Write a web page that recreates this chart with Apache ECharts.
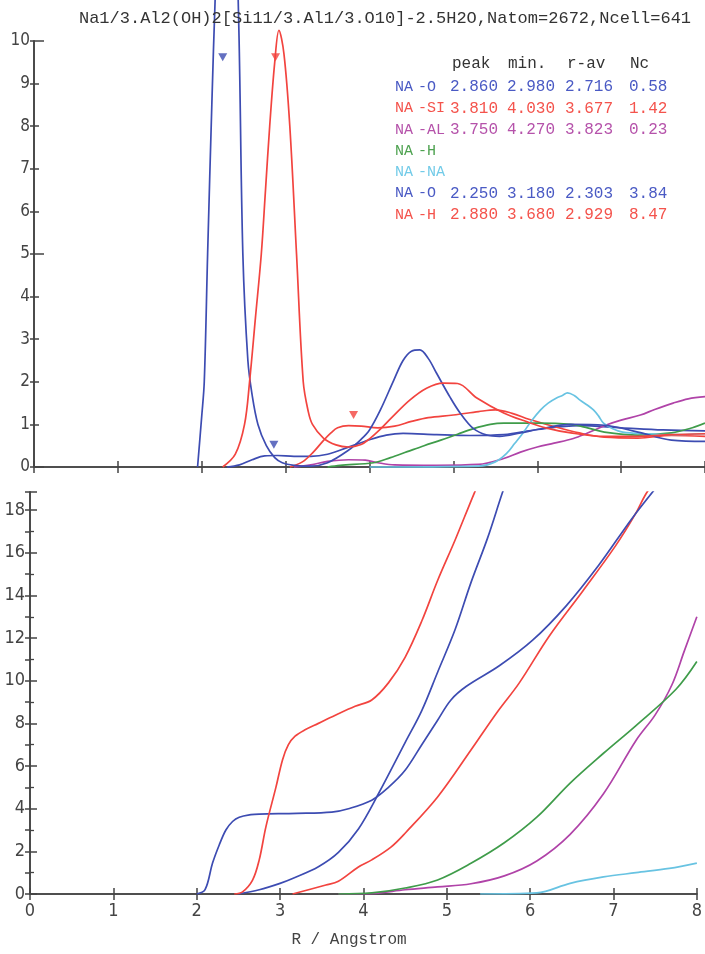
<!DOCTYPE html>
<html>
<head>
<meta charset="utf-8">
<script src="https://cdn.jsdelivr.net/npm/echarts@6/dist/echarts.min.js"></script>
<style>
html,body{margin:0;padding:0;background:#fff;}
#chart{width:705px;height:954px;}
</style>
</head>
<body>
<div id="chart"></div>
<script>
// ---------- DATA ----------
const chartTitle = 'Na1/3.Al2(OH)2[Si11/3.Al1/3.O10]-2.5H2O,Natom=2672,Ncell=641';
const xAxisName = 'R / Angstrom';

// table
const tableHeader = ['peak', 'min.', 'r-av', 'Nc'];
const pairA = ['NA', 'NA', 'NA', 'NA', 'NA', 'NA', 'NA'];
const pairB = ['-O', '-SI', '-AL', '-H', '-NA', '-O', '-H'];
const peakCol = ['2.860', '3.810', '3.750', '', '', '2.250', '2.880'];
const minCol  = ['2.980', '4.030', '4.270', '', '', '3.180', '3.680'];
const ravCol  = ['2.716', '3.677', '3.823', '', '', '2.303', '2.929'];
const ncCol   = ['0.58', '1.42', '0.23', '', '', '3.84', '8.47'];

// g(r) curves: [r, g]
const gNaO1 = [[2.3,0],[2.45,0.05],[2.6,0.17],[2.75,0.26],[2.9,0.27],[3.1,0.25],[3.3,0.25],[3.5,0.3],[3.74,0.46],[4.0,0.64],[4.2,0.75],[4.4,0.79],[4.8,0.76],[5.2,0.74],[5.6,0.76],[6.0,0.88],[6.5,0.97],[7.0,0.92],[7.5,0.87],[8.0,0.85]];
const gNaSi = [[3.05,0],[3.2,0.12],[3.33,0.35],[3.45,0.62],[3.54,0.8],[3.62,0.92],[3.75,0.97],[3.9,0.96],[4.1,0.92],[4.3,0.96],[4.5,1.07],[4.7,1.16],[5.0,1.22],[5.3,1.3],[5.5,1.34],[5.7,1.26],[5.9,1.12],[6.2,0.95],[6.5,0.8],[6.8,0.7],[7.2,0.68],[7.6,0.74],[8.0,0.72]];
const gNaAl = [[3.1,0],[3.3,0.05],[3.5,0.13],[3.75,0.17],[3.95,0.16],[4.1,0.1],[4.3,0.05],[4.8,0.04],[5.3,0.06],[5.6,0.2],[5.8,0.35],[6.0,0.47],[6.2,0.56],[6.43,0.67],[6.6,0.8],[6.83,0.99],[7.0,1.1],[7.23,1.22],[7.4,1.35],[7.62,1.5],[7.8,1.6],[8.0,1.65]];
const gNaHw = [[3.5,0],[3.65,0.04],[4.05,0.1],[4.25,0.22],[4.45,0.36],[4.65,0.5],[4.85,0.63],[5.05,0.77],[5.24,0.9],[5.44,1.0],[5.6,1.03],[6.0,1.03],[6.4,1.0],[6.6,0.92],[6.8,0.82],[7.2,0.75],[7.6,0.8],[7.85,0.92],[8.0,1.03]];
const gNaNa = [[4.0,0],[5.3,0.02],[5.5,0.12],[5.64,0.33],[5.73,0.55],[5.83,0.8],[5.93,1.08],[6.04,1.34],[6.13,1.5],[6.23,1.62],[6.3,1.68],[6.36,1.74],[6.44,1.68],[6.51,1.57],[6.6,1.45],[6.67,1.34],[6.73,1.2],[6.79,1.03],[6.9,0.9],[7.02,0.82],[7.3,0.78],[7.6,0.76],[8.0,0.78]];
const gNaO2 = [[1.95,0],[2.0,1.2],[2.03,2],[2.07,5],[2.12,8.5],[2.16,11],[2.22,14],[2.3,15],[2.38,14],[2.44,10.5],[2.49,5],[2.55,2.5],[2.6,1.7],[2.67,1.0],[2.77,0.5],[2.87,0.22],[2.96,0.1],[3.1,0.04],[3.3,0.02],[3.5,0.1],[3.74,0.38],[3.9,0.65],[4.0,0.87],[4.13,1.34],[4.29,2.04],[4.4,2.5],[4.5,2.72],[4.6,2.75],[4.7,2.55],[4.8,2.2],[4.96,1.64],[5.08,1.27],[5.24,0.9],[5.4,0.75],[5.55,0.72],[5.8,0.8],[6.0,0.88],[6.4,1.0],[6.8,0.98],[7.2,0.82],[7.6,0.63],[8.0,0.6]];
const gNaH = [[2.25,0],[2.4,0.3],[2.51,1.0],[2.57,2.0],[2.64,3.5],[2.71,5.0],[2.76,6.5],[2.81,8.0],[2.87,9.5],[2.92,10.25],[2.98,9.7],[3.05,8.0],[3.13,5.0],[3.21,2.0],[3.27,1.3],[3.32,1.0],[3.45,0.68],[3.6,0.52],[3.75,0.47],[3.9,0.53],[4.0,0.66],[4.12,0.87],[4.27,1.17],[4.48,1.57],[4.68,1.85],[4.88,1.97],[5.05,1.96],[5.28,1.62],[5.6,1.27],[5.88,1.06],[6.1,0.92],[6.4,0.8],[6.8,0.72],[7.2,0.72],[7.6,0.76],[8.0,0.78]];

// peak markers
const markR = [2.25, 2.86, 2.88, 3.81];
const markG = [9.62, 0.52, 9.62, 1.22];

// N(r) running coordination numbers: [r, N]
const nNaO2 = [[2.0,0],[2.1,0.2],[2.19,1.45],[2.27,2.3],[2.35,3.0],[2.43,3.4],[2.51,3.6],[2.65,3.72],[2.75,3.75],[3.2,3.78],[3.62,3.84],[3.82,4.0],[4.1,4.4],[4.3,5.0],[4.5,5.8],[4.7,7.0],[4.89,8.15],[5.05,9.1],[5.24,9.75],[5.63,10.7],[6.03,11.9],[6.43,13.5],[6.82,15.4],[7.22,17.6],[7.5,19.0]];
const nNaH  = [[2.45,0],[2.55,0.1],[2.67,0.65],[2.75,1.6],[2.83,3.15],[2.95,5.0],[3.03,6.3],[3.1,7.0],[3.18,7.4],[3.3,7.7],[3.46,8.0],[3.7,8.45],[3.9,8.8],[4.1,9.1],[4.3,9.9],[4.5,11.1],[4.7,12.8],[4.89,14.7],[5.1,16.6],[5.33,18.8],[5.4,19.4]];
const nNaO1 = [[2.5,0],[2.75,0.2],[3.0,0.5],[3.15,0.73],[3.46,1.28],[3.7,1.95],[3.94,3.05],[4.18,4.7],[4.5,7.1],[4.7,8.6],[4.89,10.4],[5.1,12.4],[5.29,14.6],[5.49,16.7],[5.67,18.85],[5.75,19.7]];
const nNaSi = [[3.15,0],[3.55,0.42],[3.7,0.6],[3.94,1.27],[4.1,1.6],[4.33,2.2],[4.5,2.85],[4.89,4.55],[5.29,6.75],[5.6,8.5],[5.87,9.9],[6.23,12.1],[6.63,14.2],[7.02,16.3],[7.26,17.8],[7.38,18.7],[7.5,19.4]];
const nNaHw = [[3.7,0],[4.1,0.05],[4.5,0.28],[4.89,0.66],[5.29,1.44],[5.69,2.4],[6.08,3.6],[6.48,5.2],[6.88,6.6],[7.27,7.9],[7.75,9.6],[8.0,10.9]];
const nNaAl = [[3.7,0],[4.1,0.02],[4.5,0.2],[4.89,0.33],[5.29,0.48],[5.69,0.85],[6.08,1.55],[6.48,2.8],[6.88,4.7],[7.27,7.2],[7.5,8.4],[7.7,9.8],[7.85,11.4],[8.0,13.0]];
const nNaNa = [[5.4,0],[6.08,0.05],[6.48,0.5],[6.88,0.8],[7.27,1.0],[7.67,1.2],[8.0,1.45]];

// ---------- STYLE ----------
const C = { blue:'#3d4cb2', red:'#f2443f', purple:'#b043a8', green:'#3f9c4a', cyan:'#68c3e2' };
const T = { blue:'#4a5ac4', red:'#f4534c', purple:'#b552aa', green:'#4ea250', cyan:'#72cbe8' };
const rowColors = [T.blue, T.red, T.purple, T.green, T.cyan, T.blue, T.red];
const axisCol = '#444';
const labelFont = '"Liberation Sans Narrow","DejaVu Sans Condensed","Liberation Sans",sans-serif';
const monoFont = '"Liberation Mono","DejaVu Sans Mono",monospace';

const chart = echarts.init(document.getElementById('chart'), null, {renderer:'canvas'});

const lineStyle = (c) => ({ color: c, width: 1.7 });
function line(name, data, color, xi, yi, clip) {
  return { type:'line', name, data, xAxisIndex:xi, yAxisIndex:yi, showSymbol:false, symbol:'none',
    smooth:0.35, clip, lineStyle: lineStyle(color), itemStyle:{color}, silent:true, z:3 };
}

const axisLine = { show:true, lineStyle:{ color:axisCol, width:1.6 } };

const grids = [
  { left:34, top:41, width:671, height:426 },
  { left:30, top:492, width:672, height:402 }
];

const xAxes = [
  { gridIndex:0, type:'value', min:0, max:8, interval:1, position:'bottom', axisLine, splitLine:{show:false},
    axisTick:{inside:true, length:6, lineStyle:{color:axisCol, width:1.5}}, axisLabel:{show:false} },
  { gridIndex:0, type:'value', min:0, max:8, interval:1, position:'top', axisLine, splitLine:{show:false},
    axisTick:{inside:true, length:6, lineStyle:{color:axisCol, width:1.5}}, axisLabel:{show:false} },
  { gridIndex:1, type:'value', min:0, max:8, interval:1, position:'bottom', axisLine, splitLine:{show:false},
    axisTick:{inside:true, length:6, lineStyle:{color:axisCol, width:1.5}},
    axisLabel:{show:true, color:axisCol, fontSize:18, fontFamily:labelFont, margin:8} },
  { gridIndex:1, type:'value', min:0, max:8, interval:1, position:'top', axisLine, splitLine:{show:false},
    axisTick:{inside:true, length:6, lineStyle:{color:axisCol, width:1.5}}, axisLabel:{show:false} }
];

const yAxes = [
  { gridIndex:0, type:'value', min:0, max:10, interval:1, position:'left', axisLine, splitLine:{show:false},
    axisTick:{inside:true, length:5, lineStyle:{color:axisCol, width:1.5}},
    axisLabel:{color:axisCol, fontSize:17, fontFamily:labelFont, margin:4} },
  { gridIndex:0, type:'value', min:0, max:10, interval:1, position:'right', axisLine, splitLine:{show:false},
    axisTick:{inside:true, length:4, lineStyle:{color:axisCol, width:1.5}}, axisLabel:{show:false} },
  { gridIndex:0, type:'value', min:0, max:10, interval:5, position:'left', axisLine:{show:false}, splitLine:{show:false},
    axisTick:{inside:true, length:10, lineStyle:{color:axisCol, width:1.5}}, axisLabel:{show:false} },
  { gridIndex:1, type:'value', min:0, max:18.85, interval:2, position:'left', axisLine, splitLine:{show:false},
    axisTick:{inside:true, length:7, lineStyle:{color:axisCol, width:1.5}},
    minorTick:{show:true, splitNumber:2, length:4, lineStyle:{color:axisCol, width:1.3}},
    axisLabel:{color:axisCol, fontSize:18, fontFamily:labelFont, margin:5, showMaxLabel:false} },
  { gridIndex:1, type:'value', min:0, max:18.85, interval:1, position:'right', axisLine, splitLine:{show:false},
    axisTick:{inside:true, length:5, lineStyle:{color:axisCol, width:1.5}}, axisLabel:{show:false} }
];

const series = [
  line('NA-O g1', gNaO1, C.blue, 0, 0, false),
  line('NA-SI g', gNaSi, C.red, 0, 0, false),
  line('NA-AL g', gNaAl, C.purple, 0, 0, false),
  line('NA-H g', gNaHw, C.green, 0, 0, false),
  line('NA-NA g', gNaNa, C.cyan, 0, 0, false),
  line('NA-O g2', gNaO2, C.blue, 0, 0, false),
  line('NA-H g2', gNaH, C.red, 0, 0, false),
  { type:'scatter', xAxisIndex:0, yAxisIndex:0, symbol:'triangle', symbolRotate:180, symbolSize:[9,8], z:5, silent:true,
    data: markR.map((r,i)=>({ value:[r, markG[i]], itemStyle:{ color: i<2 ? C.blue : C.red } })) },
  line('NA-O N1', nNaO1, C.blue, 2, 3, true),
  line('NA-SI N', nNaSi, C.red, 2, 3, true),
  line('NA-AL N', nNaAl, C.purple, 2, 3, true),
  line('NA-H N', nNaHw, C.green, 2, 3, true),
  line('NA-NA N', nNaNa, C.cyan, 2, 3, true),
  line('NA-O N2', nNaO2, C.blue, 2, 3, true),
  line('NA-H N2', nNaH, C.red, 2, 3, true)
];

// table graphics
const colX = [450, 507, 565, 629];
const headX = [452, 508, 567, 630];
const rowY0 = 87, rowDY = 21.3;
const graphics = [];
graphics.push({ type:'text', x:385, y:18, z:10, style:{ text:chartTitle, font:'17px ' + monoFont, fill:'#333',
  align:'center', verticalAlign:'middle', textAlign:'center', textVerticalAlign:'middle' } });
graphics.push({ type:'text', x:349, y:940, z:10, style:{ text:xAxisName, font:'16px ' + monoFont, fill:'#444',
  align:'center', verticalAlign:'middle', textAlign:'center', textVerticalAlign:'middle' } });
tableHeader.forEach((h,i)=>{
  graphics.push({ type:'text', x:headX[i], y:64, z:10, style:{ text:h, font:'16px ' + monoFont, fill:'#333',
    align:'left', verticalAlign:'middle', textAlign:'left', textVerticalAlign:'middle' } });
});
pairA.forEach((a,i)=>{
  const y = rowY0 + i*rowDY;
  const cells = [[395,a,15],[418,pairB[i],15],[colX[0],peakCol[i],16],[colX[1],minCol[i],16],[colX[2],ravCol[i],16],[colX[3],ncCol[i],16]];
  cells.forEach(([x,t,fs])=>{
    if (!t) return;
    graphics.push({ type:'text', x, y, z:10, style:{ text:t, font:fs + 'px ' + monoFont, fill:rowColors[i],
      align:'left', verticalAlign:'middle', textAlign:'left', textVerticalAlign:'middle' } });
  });
});

chart.setOption({
  animation:false,
  backgroundColor:'#fff',
  grid: grids,
  xAxis: xAxes,
  yAxis: yAxes,
  series,
  graphic: graphics
});
</script>
</body>
</html>
